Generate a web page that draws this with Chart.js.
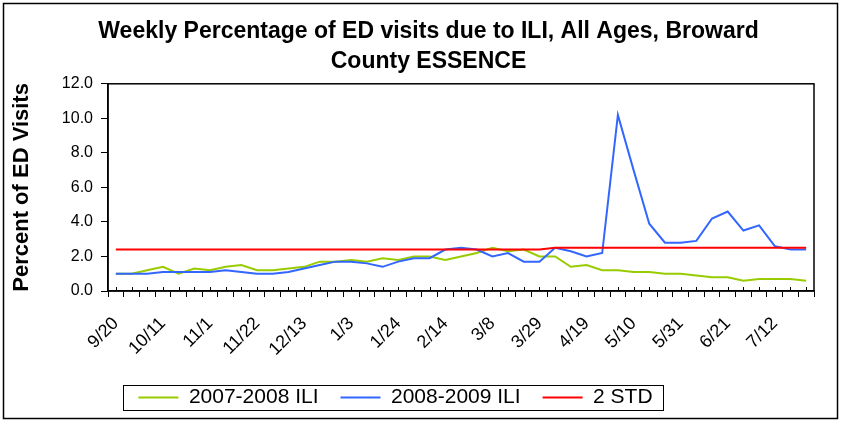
<!DOCTYPE html>
<html>
<head>
<meta charset="utf-8">
<title>Weekly Percentage of ED visits due to ILI, Broward County</title>
<script src="https://cdn.jsdelivr.net/npm/chart.js@4/dist/chart.umd.min.js"></script>
<style>
    body { margin: 0; background: #fff; }
    #wrap { width: 841px; height: 422px; }
</style>
</head>
<body>
<div id="wrap"><canvas id="iliChart" width="841" height="422"></canvas></div>
<script>
// weekly categories, every 3rd one is labelled
const weeks = [
    '9/20', '9/27', '10/4', '10/11', '10/18', '10/25', '11/1', '11/8', '11/15',
    '11/22', '11/29', '12/6', '12/13', '12/20', '12/27', '1/3', '1/10', '1/17',
    '1/24', '1/31', '2/7', '2/14', '2/21', '3/1', '3/8', '3/15', '3/22',
    '3/29', '4/5', '4/12', '4/19', '4/26', '5/3', '5/10', '5/17', '5/24',
    '5/31', '6/7', '6/14', '6/21', '6/28', '7/5', '7/12', '7/19', '7/26'
];

const ili0708 = [
    1.0, 1.0, 1.2, 1.4, 1.0, 1.3, 1.2, 1.4, 1.5,
    1.2, 1.2, 1.3, 1.4, 1.7, 1.7, 1.8, 1.7, 1.9,
    1.8, 2.0, 2.0, 1.8, 2.0, 2.2, 2.5, 2.3, 2.4,
    2.0, 2.0, 1.4, 1.5, 1.2, 1.2, 1.1, 1.1, 1.0,
    1.0, 0.9, 0.8, 0.8, 0.6, 0.7, 0.7, 0.7, 0.6
];

const ili0809 = [
    1.0, 1.0, 1.0, 1.1, 1.1, 1.1, 1.1, 1.2, 1.1,
    1.0, 1.0, 1.1, 1.3, 1.5, 1.7, 1.7, 1.6, 1.4,
    1.7, 1.9, 1.9, 2.4, 2.5, 2.4, 2.0, 2.2, 1.7,
    1.7, 2.5, 2.3, 2.0, 2.2, 10.2, 7.0, 3.9, 2.8,
    2.8, 2.9, 4.2, 4.6, 3.5, 3.8, 2.6, 2.4, 2.4
];

const twoStd = [
    2.4, 2.4, 2.4, 2.4, 2.4, 2.4, 2.4, 2.4, 2.4,
    2.4, 2.4, 2.4, 2.4, 2.4, 2.4, 2.4, 2.4, 2.4,
    2.4, 2.4, 2.4, 2.4, 2.4, 2.4, 2.4, 2.4, 2.4,
    2.4, 2.5, 2.5, 2.5, 2.5, 2.5, 2.5, 2.5, 2.5,
    2.5, 2.5, 2.5, 2.5, 2.5, 2.5, 2.5, 2.5, 2.5
];

const yMin = 0;
const yMax = 12;
const yStep = 2;
const labelEvery = 3;

const FONT = '"Liberation Sans", Arial, sans-serif';

// white page, frames, legend box and the small in-plot ticks at each week
const frames = {
    id: 'frames',
    afterLayout(chart) {
        chart.titleBlock.left += 19;
        chart.titleBlock.right += 19;
        chart.legend.left -= 14;
        chart.legend.right -= 14;
    },
    beforeDraw(chart) {
        const ctx = chart.ctx;
        ctx.save();
        ctx.fillStyle = '#fff';
        ctx.fillRect(0, 0, chart.width, chart.height);
        ctx.restore();
    },
    afterDraw(chart) {
        const ctx = chart.ctx;
        const {left, top, right, bottom} = chart.chartArea;
        const x = chart.scales.x;
        ctx.save();
        ctx.strokeStyle = '#000';

        ctx.lineWidth = 1;
        ctx.beginPath();
        weeks.forEach((w, i) => {
            const px = Math.round(x.getPixelForValue(i)) + 0.5;
            ctx.moveTo(px, bottom);
            ctx.lineTo(px, bottom - 4);
        });
        ctx.stroke();

        ctx.lineWidth = 1.5;
        ctx.strokeRect(left, top, right - left, bottom - top);

        const lg = chart.legend;
        const pad = lg.options.labels.padding;
        const size = lg.options.labels.font.size;
        const lw = lg.lineWidths[0];
        const start = (lg.left + pad + lg.right - lw) / 2;
        const end = start + lw - pad;
        const mid = lg.top + pad + size / 2;
        ctx.lineWidth = 1;
        ctx.strokeRect(Math.round(start - 15) + 0.5, Math.round(mid - 12.5) + 0.5, Math.round(end - start + 26), 25);

        ctx.lineWidth = 1.5;
        ctx.strokeRect(3.5, 3.5, chart.width - 7, chart.height - 7);
        ctx.restore();
    }
};

const chart = new Chart(document.getElementById('iliChart'), {
    type: 'line',
    data: {
        labels: weeks,
        datasets: [{
            label: '2007-2008 ILI',
            data: ili0708,
            borderColor: '#99cc00',
            backgroundColor: '#99cc00',
            borderWidth: 2,
            pointRadius: 0,
            tension: 0,
            order: 2
        }, {
            label: '2008-2009 ILI',
            data: ili0809,
            borderColor: '#3366ff',
            backgroundColor: '#3366ff',
            borderWidth: 2,
            pointRadius: 0,
            tension: 0,
            order: 1
        }, {
            label: '2 STD',
            data: twoStd,
            borderColor: '#ff0000',
            backgroundColor: '#ff0000',
            borderWidth: 2,
            pointRadius: 0,
            tension: 0,
            order: 0
        }]
    },
    options: {
        responsive: false,
        animation: false,
        events: [],
        layout: {
            padding: { left: 5, right: 27, top: 0, bottom: 4 }
        },
        plugins: {
            title: {
                display: true,
                text: ['Weekly Percentage of ED visits due to ILI, All Ages, Broward', 'County ESSENCE'],
                color: '#000',
                font: { family: FONT, size: 23, weight: 'bold', lineHeight: 1.3 },
                padding: { top: 17, bottom: 7 }
            },
            legend: {
                position: 'bottom',
                labels: {
                    color: '#000',
                    font: { family: FONT, size: 21 },
                    usePointStyle: true,
                    pointStyle: 'line',
                    pointStyleWidth: 40,
                    padding: 22,
                    sort: (a, b) => a.datasetIndex - b.datasetIndex
                }
            },
            tooltip: { enabled: false }
        },
        scales: {
            x: {
                offset: true,
                grid: {
                    offset: true,
                    drawOnChartArea: false,
                    color: '#000',
                    tickLength: 6
                },
                border: { color: '#000', width: 1.5 },
                ticks: {
                    autoSkip: false,
                    maxRotation: 45,
                    minRotation: 45,
                    padding: 16,
                    color: '#000',
                    font: { family: FONT, size: 18 },
                    callback: (v, i) => (i % labelEvery === 0 ? weeks[i] : '')
                },
                afterFit: (scale) => { scale.height = 74; }
            },
            y: {
                min: yMin,
                max: yMax,
                grid: {
                    drawOnChartArea: false,
                    color: '#000',
                    tickLength: 7
                },
                border: { color: '#000', width: 1.5 },
                ticks: {
                    stepSize: yStep,
                    padding: 8,
                    color: '#000',
                    font: { family: FONT, size: 16 },
                    callback: (v) => v.toFixed(1)
                },
                title: {
                    display: true,
                    text: 'Percent of ED Visits',
                    color: '#000',
                    font: { family: FONT, size: 22, weight: 'bold' },
                    padding: { top: 4, bottom: 0 }
                },
                afterFit: (scale) => { scale.width = 103; }
            }
        }
    },
    plugins: [frames]
});
</script>
</body>
</html>
